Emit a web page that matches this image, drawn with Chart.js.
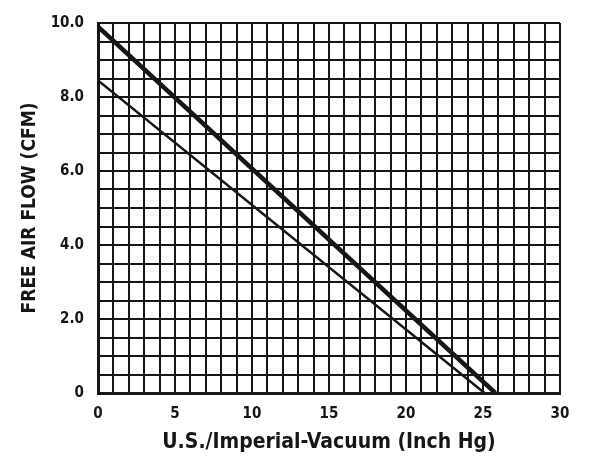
<!DOCTYPE html>
<html lang="en">
<head>
    <meta charset="UTF-8">
    <title>Free Air Flow vs Vacuum</title>
    <script src="https://cdn.jsdelivr.net/npm/chart.js"></script>
    <style>
        body { margin: 0; background: #fff; }
        canvas { display: block; }
    </style>
</head>
<body>
    <canvas id="flowChart" width="589" height="461"></canvas>

    <script>
        // values (x = vacuum inch Hg, y = CFM)
        var upperVacuum = [0, 25.8];
        var upperFlow = [9.9, 0];
        var lowerVacuum = [0, 25.1];
        var lowerFlow = [8.45, 0];

        var xLabelTicks = [0, 5, 10, 15, 20, 25, 30];
        var yLabelTicks = [0, 2, 4, 6, 8, 10];

        function toPoints(xs, ys) {
            return xs.map(function (x, i) { return { x: x, y: ys[i] }; });
        }

        var font = "'Liberation Sans Narrow', 'DejaVu Sans Condensed', 'Liberation Sans', sans-serif";
        var ink = '#161616';

        var ctx = document.getElementById('flowChart').getContext('2d');
        var flowChart = new Chart(ctx, {
            type: 'scatter',
            data: {
                datasets: [{
                    label: 'Upper',
                    data: toPoints(upperVacuum, upperFlow),
                    showLine: true,
                    borderColor: ink,
                    borderWidth: 4.5,
                    pointRadius: 0
                }, {
                    label: 'Lower',
                    data: toPoints(lowerVacuum, lowerFlow),
                    showLine: true,
                    borderColor: ink,
                    borderWidth: 2.5,
                    pointRadius: 0
                }]
            },
            options: {
                responsive: false,
                animation: false,
                layout: { padding: { top: 17, right: 29, left: 0, bottom: 0 } },
                plugins: {
                    legend: { display: false },
                    tooltip: { enabled: false }
                },
                scales: {
                    x: {
                        type: 'linear',
                        min: 0,
                        max: 30,
                        afterFit: function (scale) { scale.height = 68; },
                        grid: { color: ink, lineWidth: 2, drawTicks: false },
                        border: { color: ink, width: 3 },
                        ticks: {
                            stepSize: 1,
                            autoSkip: false,
                            maxRotation: 0,
                            padding: 12,
                            color: ink,
                            font: { family: font, size: 15, weight: 'bold' },
                            callback: function (v) {
                                return xLabelTicks.indexOf(v) > -1 ? String(v) : '';
                            }
                        },
                        title: {
                            display: true,
                            text: 'U.S./Imperial-Vacuum (Inch Hg)',
                            color: ink,
                            padding: { top: 0, bottom: 6 },
                            font: { family: font, size: 21, weight: 'bold' }
                        }
                    },
                    y: {
                        type: 'linear',
                        min: 0,
                        max: 10,
                        afterFit: function (scale) { scale.width = 98; },
                        grid: { color: ink, lineWidth: 2, drawTicks: false },
                        border: { color: ink, width: 3 },
                        ticks: {
                            stepSize: 0.5,
                            autoSkip: false,
                            padding: 14,
                            color: ink,
                            font: { family: font, size: 15, weight: 'bold' },
                            callback: function (v) {
                                if (yLabelTicks.indexOf(v) < 0) return '';
                                return v === 0 ? '0' : v.toFixed(1);
                            }
                        },
                        title: {
                            display: true,
                            text: 'FREE AIR FLOW (CFM)',
                            color: ink,
                            padding: { top: 19, bottom: 0 },
                            font: { family: font, size: 19, weight: 'bold' }
                        }
                    }
                }
            }
        });
    </script>
</body>
</html>
